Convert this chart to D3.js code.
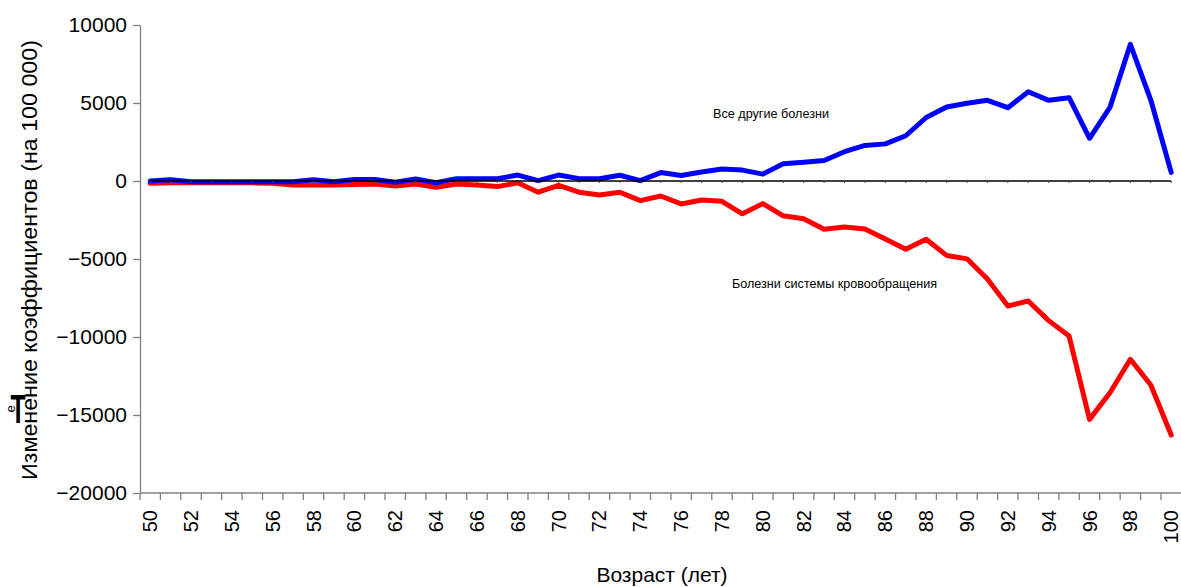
<!DOCTYPE html>
<html><head><meta charset="utf-8">
<script src="https://cdn.jsdelivr.net/npm/d3@7/dist/d3.min.js"></script>
<style>
html,body{margin:0;padding:0;background:#fff;}
svg{display:block;font-family:"Liberation Sans",Arial,sans-serif;}
</style></head>
<body>
<svg id="chart" width="1181" height="587"></svg>
<script>
const ages = d3.range(50, 101);
const otherDiseases = [0,80,-50,-50,-50,-50,-50,-50,80,-50,100,100,-80,130,-110,150,150,150,380,20,380,150,150,370,20,540,350,580,770,700,440,1100,1200,1310,1880,2280,2380,2900,4070,4740,4980,5170,4700,5720,5170,5340,2740,4720,8760,5190,550];
const circulatory = [-150,-120,-110,-110,-110,-120,-150,-250,-250,-250,-220,-200,-320,-190,-400,-190,-260,-360,-110,-720,-280,-720,-900,-720,-1260,-960,-1470,-1220,-1300,-2100,-1450,-2230,-2420,-3090,-2950,-3070,-3720,-4380,-3730,-4770,-4990,-6280,-8010,-7690,-8950,-9940,-15280,-13570,-11430,-13080,-16280];
const zeroLine = ages.map(() => 0);
const yTicks = [10000, 5000, 0, -5000, -10000, -15000, -20000];
const xLabels = ages.filter(a => a % 2 === 0);

const svg = d3.select("#chart");
const x = d3.scaleBand().domain(ages).range([140, 140 + 51 * 20.42]).padding(0);
const cx = a => x(a) + x.bandwidth() / 2;
const y = d3.scaleLinear().domain([-20000, 10000]).range([493, 25]);

// Y axis
const yAxis = d3.axisLeft(y).tickValues(yTicks).tickSize(7).tickSizeOuter(0).tickFormat(d3.format("d"));
const gy = svg.append("g").attr("transform", "translate(140,0)").call(yAxis);
gy.select(".domain").attr("stroke", "#808080").attr("stroke-width", 1.3);
gy.selectAll(".tick line").attr("stroke", "#808080").attr("stroke-width", 1.3);
gy.selectAll(".tick text").attr("x", -13).attr("font-size", 21).attr("fill", "#000")
  .attr("font-family", "Liberation Sans, Arial, sans-serif");

// X axis
const gx = svg.append("g");
gx.append("line").attr("x1", 140).attr("x2", 1181).attr("y1", 493).attr("y2", 493)
  .attr("stroke", "#808080").attr("stroke-width", 1.3);
gx.selectAll("line.tk").data(ages).join("line").attr("class", "tk")
  .attr("x1", d => x(d)).attr("x2", d => x(d)).attr("y1", 493).attr("y2", 500)
  .attr("stroke", "#808080").attr("stroke-width", 1.3);
gx.selectAll("text.xl").data(xLabels).join("text").attr("class", "xl")
  .attr("transform", d => `translate(${cx(d)},510) rotate(-90)`)
  .attr("text-anchor", "end").attr("dy", "0.35em").attr("font-size", 20).attr("fill", "#000")
  .text(d => d);

// Series
const line = d3.line().x((d, i) => cx(ages[i])).y(d => y(d));
svg.append("path").datum(circulatory).attr("d", line).attr("fill", "none")
  .attr("stroke", "#ff0000").attr("stroke-width", 5).attr("stroke-linejoin", "round").attr("stroke-linecap", "round");
svg.append("path").datum(otherDiseases).attr("d", line).attr("fill", "none")
  .attr("stroke", "#0000ff").attr("stroke-width", 5).attr("stroke-linejoin", "round").attr("stroke-linecap", "round");
svg.append("path").datum(zeroLine).attr("d", line).attr("fill", "none")
  .attr("stroke", "#000").attr("stroke-width", 1.6);
svg.selectAll("line.zm").data(ages).join("line").attr("class", "zm")
  .attr("x1", d => cx(d)).attr("x2", d => cx(d)).attr("y1", y(0)).attr("y2", y(0) + 2)
  .attr("stroke", "#444").attr("stroke-width", 1);

// Annotations
svg.append("text").attr("x", 713).attr("y", 118).attr("font-size", 12)
  .attr("textLength", 116).attr("lengthAdjust", "spacingAndGlyphs").text("Все другие болезни");
svg.append("text").attr("x", 732).attr("y", 288).attr("font-size", 12)
  .attr("textLength", 205).attr("lengthAdjust", "spacingAndGlyphs").text("Болезни системы кровообращения");

// Axis titles
svg.append("text").attr("x", 662).attr("y", 582).attr("text-anchor", "middle")
  .attr("font-size", 21).text("Возраст (лет)");
svg.append("text").attr("transform", "translate(37,260) rotate(-90)").attr("text-anchor", "middle")
  .attr("font-size", 22).attr("textLength", 440).attr("lengthAdjust", "spacingAndGlyphs")
  .text("Изменение коэффициентов (на 100 000)");

// Stray overlapping glyphs at the left edge
svg.append("text").attr("transform", "translate(18,423) scale(0.62,1)").attr("text-anchor", "middle")
  .attr("font-size", 40).attr("font-weight", "bold").text("Т");
svg.append("text").attr("transform", "translate(15,409) rotate(-90)").attr("text-anchor", "middle")
  .attr("font-size", 13).text("е");
</script>
</body></html>
